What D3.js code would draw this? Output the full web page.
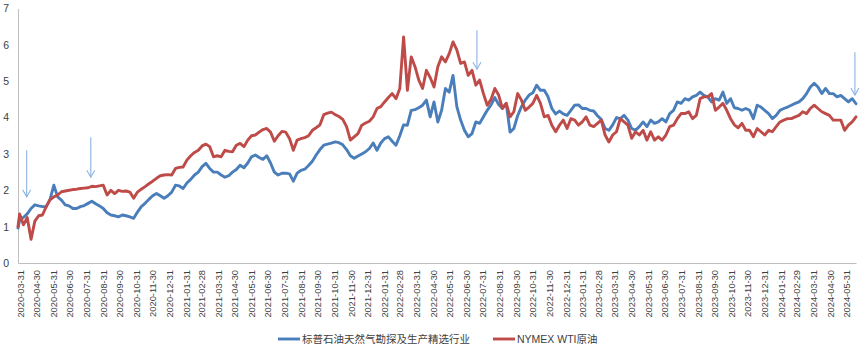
<!DOCTYPE html>
<html>
<head>
<meta charset="utf-8">
<script src="https://cdn.jsdelivr.net/npm/d3@7"></script>
<style>
  body { margin: 0; background: #fff; }
  svg { display: block; }
</style>
</head>
<body>
<svg id="chart" width="865" height="347"></svg>
<script>
// Sampling: first close on 2020-03-31, then weekly Friday closes.
const startDate = "2020-03-31";
const weeklyFrom = "2020-04-03";
const weeklyTo = "2024-06-21";

const seriesNames = ["标普石油天然气勘探及生产精选行业", "NYMEX WTI原油"];

// Normalised level, E&P select industry index
const spxValues = [
  0.96,
  1.18,1.25,1.35,1.5,1.6,1.57,1.55,1.55,1.75,2.14,
  1.82,1.73,1.6,1.57,1.5,1.5,1.55,1.58,1.64,1.70,
  1.63,1.57,1.5,1.38,1.32,1.3,1.27,1.32,1.3,1.27,
  1.23,1.4,1.55,1.64,1.75,1.85,1.91,1.85,1.78,1.85,
  1.95,2.14,2.12,2.05,2.2,2.3,2.42,2.5,2.65,2.74,
  2.6,2.5,2.5,2.42,2.36,2.4,2.5,2.57,2.69,2.62,
  2.75,2.92,2.97,2.9,2.85,2.95,2.75,2.5,2.42,2.47,
  2.47,2.45,2.25,2.47,2.55,2.58,2.68,2.8,2.97,3.12,
  3.24,3.27,3.3,3.33,3.31,3.25,3.12,2.95,2.88,2.94,
  3.0,3.06,3.15,3.3,3.1,3.3,3.42,3.47,3.35,3.24,
  3.5,3.8,3.79,4.2,4.22,4.27,4.34,4.48,4.02,4.43,
  3.88,4.2,4.8,4.7,5.16,4.3,3.93,3.65,3.47,3.56,
  3.88,3.84,4.02,4.2,4.35,4.55,4.36,4.25,4.39,3.6,
  3.7,4.05,4.3,4.48,4.62,4.68,4.89,4.75,4.75,4.57,
  4.25,4.1,4.18,4.1,4.06,4.2,4.34,4.35,4.25,4.25,
  4.2,4.18,4.05,3.95,3.7,3.65,3.8,4.0,3.97,4.06,
  3.93,3.7,3.65,3.75,3.88,3.75,3.93,3.84,3.88,3.97,
  3.88,4.11,4.2,4.43,4.39,4.52,4.48,4.57,4.61,4.7,
  4.61,4.57,4.43,4.52,4.48,4.7,4.39,4.52,4.27,4.25,
  4.2,4.25,4.2,3.97,4.34,4.29,4.2,4.11,3.97,4.06,
  4.2,4.25,4.29,4.34,4.39,4.43,4.52,4.66,4.84,4.94,
  4.84,4.66,4.8,4.66,4.66,4.57,4.61,4.52,4.43,4.52,
  4.38
];

// Normalised level, NYMEX WTI crude
const wtiValues = [
  1.0,
  1.35,1.05,1.25,0.65,1.15,1.3,1.32,1.55,1.74,1.82,
  1.87,1.96,1.98,2.0,2.02,2.03,2.05,2.06,2.07,2.11,
  2.1,2.12,2.14,1.87,2.0,1.91,2.0,1.97,1.98,1.95,
  1.78,1.95,2.03,2.1,2.18,2.25,2.33,2.4,2.42,2.43,
  2.42,2.6,2.63,2.64,2.83,2.95,3.04,3.1,3.22,3.27,
  3.2,2.92,2.95,2.92,3.1,3.07,3.06,3.24,3.29,3.2,
  3.38,3.5,3.52,3.6,3.67,3.7,3.6,3.35,3.5,3.62,
  3.6,3.42,3.1,3.38,3.42,3.45,3.5,3.65,3.72,3.8,
  4.08,4.12,4.15,4.08,4.03,3.95,3.75,3.38,3.47,3.56,
  3.79,3.85,3.9,4.02,4.25,4.3,4.43,4.55,4.66,4.52,
  4.8,6.22,4.75,5.67,5.4,5.03,4.8,5.3,5.1,4.84,
  5.4,5.67,5.53,5.76,6.08,5.86,5.49,5.53,5.16,5.3,
  4.89,5.03,4.66,4.34,4.5,4.8,4.62,4.25,4.39,4.02,
  4.16,4.66,4.48,4.2,4.29,4.39,4.61,4.39,4.02,4.06,
  3.79,3.61,3.79,3.93,3.7,3.97,3.93,3.79,3.88,4.02,
  3.79,3.75,3.84,3.93,3.52,3.33,3.52,3.61,3.97,3.88,
  3.79,3.43,3.61,3.52,3.65,3.38,3.61,3.38,3.47,3.38,
  3.52,3.75,3.79,3.97,4.11,4.11,4.16,3.97,4.06,4.52,
  4.57,4.57,4.66,4.2,4.29,4.39,4.2,3.97,3.8,3.72,
  3.84,3.65,3.65,3.47,3.7,3.61,3.52,3.65,3.61,3.75,
  3.88,3.93,3.97,3.97,4.02,4.06,4.16,4.11,4.25,4.34,
  4.25,4.16,4.11,4.06,3.93,3.93,3.93,3.65,3.79,3.88,
  4.02
];

// Month-end category labels along the time axis
const monthEndLabels = [
  "2020-03-31","2020-04-30","2020-05-31","2020-06-30","2020-07-31","2020-08-31",
  "2020-09-30","2020-10-31","2020-11-30","2020-12-31","2021-01-31","2021-02-28",
  "2021-03-31","2021-04-30","2021-05-31","2021-06-30","2021-07-31","2021-08-31",
  "2021-09-30","2021-10-31","2021-11-30","2021-12-31","2022-01-31","2022-02-28",
  "2022-03-31","2022-04-30","2022-05-31","2022-06-30","2022-07-31","2022-08-31",
  "2022-09-30","2022-10-31","2022-11-30","2022-12-31","2023-01-31","2023-02-28",
  "2023-03-31","2023-04-30","2023-05-31","2023-06-30","2023-07-31","2023-08-31",
  "2023-09-30","2023-10-31","2023-11-30","2023-12-31","2024-01-31","2024-02-29",
  "2024-03-31","2024-04-30","2024-05-31"
];

const yTicks = [0, 1, 2, 3, 4, 5, 6, 7];

// Marker arrows: date, top level, tip level
const arrowDates = ["2020-04-16", "2020-08-12", "2022-07-24", "2024-06-19"];
const arrowTops = [3.1, 3.46, 6.4, 5.8];
const arrowTips = [1.82, 2.36, 5.33, 4.62];

const colors = ["#4a7ebb", "#be4b48"];
const axisColor = "#bfbfbf";
const textColor = "#404040";

const parse = d3.timeParse("%Y-%m-%d");
const dates = [parse(startDate)].concat(
  d3.timeFriday.range(parse(weeklyFrom), d3.timeDay.offset(parse(weeklyTo), 1))
);

const svg = d3.select("#chart");
const plot = { left: 18, right: 856, top: 8.5, bottom: 263 };

const x = d3.scaleTime()
  .domain(d3.extent(dates))
  .range([plot.left, plot.right]);
const y = d3.scaleLinear()
  .domain([0, 7])
  .range([plot.bottom, plot.top]);

// Y axis
const yAxis = svg.append("g")
  .attr("transform", `translate(${plot.left},0)`)
  .call(d3.axisLeft(y).tickValues(yTicks).tickFormat(d3.format("d")).tickSize(0).tickSizeOuter(0).tickPadding(9));
yAxis.select(".domain").attr("stroke", axisColor);
yAxis.selectAll("text")
  .attr("fill", textColor)
  .style("font-family", "'Liberation Sans', Arial, sans-serif")
  .style("font-size", "10.5px");

// X axis with rotated month-end labels
const tickDates = monthEndLabels.map(parse);
const xAxis = svg.append("g")
  .attr("transform", `translate(0,${plot.bottom})`)
  .call(d3.axisBottom(x).tickValues(tickDates).tickFormat(d3.timeFormat("%Y-%m-%d")).tickSize(0).tickSizeOuter(0));
xAxis.select(".domain").attr("stroke", axisColor);
xAxis.selectAll("text")
  .attr("fill", textColor)
  .style("font-family", "'Liberation Sans', Arial, sans-serif")
  .style("font-size", "9.3px")
  .attr("text-anchor", "end")
  .attr("transform", "translate(2,0) rotate(-90)")
  .attr("x", -7)
  .attr("y", 0)
  .attr("dy", "0.35em");

// Series lines
const series = [spxValues, wtiValues];
const line = d3.line()
  .x((d, i) => x(dates[i]))
  .y(d => y(d));

series.forEach((vals, si) => {
  svg.append("path")
    .datum(vals)
    .attr("fill", "none")
    .attr("stroke", colors[si])
    .attr("stroke-width", 2.9)
    .attr("stroke-linejoin", "round")
    .attr("stroke-linecap", "round")
    .attr("d", line);
});

// Marker arrows
const arrowColor = "#8db3e2";
arrowDates.forEach((ds, i) => {
  const ax = x(parse(ds));
  const y0 = y(arrowTops[i]);
  const y1 = y(arrowTips[i]);
  const g = svg.append("g").attr("stroke", arrowColor).attr("stroke-width", 1.1).attr("fill", "none");
  g.append("line").attr("x1", ax).attr("x2", ax).attr("y1", y0).attr("y2", y1);
  g.append("path").attr("d", `M${ax - 4},${y1 - 7}L${ax},${y1}L${ax + 4},${y1 - 7}`);
});

// Legend
const legendItems = [
  { x: 278, name: seriesNames[0], color: colors[0] },
  { x: 493, name: seriesNames[1], color: colors[1] }
];
const legendY = 339;
legendItems.forEach(item => {
  svg.append("line")
    .attr("x1", item.x).attr("x2", item.x + 22)
    .attr("y1", legendY).attr("y2", legendY)
    .attr("stroke", item.color).attr("stroke-width", 2.9);
  svg.append("text")
    .attr("x", item.x + 24).attr("y", legendY)
    .attr("dy", "0.35em")
    .attr("fill", textColor)
    .style("font-family", "'Liberation Sans', 'Noto Sans CJK SC', sans-serif")
    .style("font-size", "10.5px")
    .text(item.name);
});
</script>
</body>
</html>
